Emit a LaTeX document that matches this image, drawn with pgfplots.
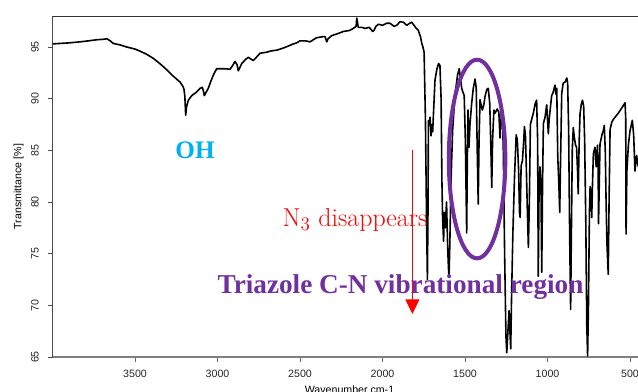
\documentclass[border=0pt]{standalone}
\usepackage{fontspec}
\setsansfont{Liberation Sans}
\newfontfamily\annotfont{Liberation Serif}
\usepackage{pgfplots}
\usepackage{pgfplotstable}
\pgfplotsset{compat=1.18}
\usetikzlibrary{arrows.meta}
\definecolor{ohblue}{HTML}{00B0F0}
\definecolor{regionpurple}{HTML}{7030A0}

% IR spectrum: wavenumber (cm-1) vs transmittance (%)
\pgfplotstableread{
wn T
4000 95.3
3950 95.35
3900 95.4
3833 95.5
3780 95.6
3732 95.7
3690 95.75
3671 95.8
3650 95.6
3633 95.35
3590 95.2
3550 95.0
3500 94.8
3470 94.6
3430 94.3
3389 93.9
3350 93.4
3308 92.8
3270 92.2
3227 91.6
3210 91.2
3203 90.9
3198 90.2
3193 88.4
3188 89.2
3177 89.85
3156 90.3
3130 90.6
3106 91.0
3092 91.1
3085 90.7
3080 90.3
3070 90.6
3056 91.0
3040 91.7
3025 92.3
3005 92.9
2960 92.9
2924 92.85
2905 93.3
2894 93.6
2882 93.3
2874 92.7
2865 93.0
2853 93.4
2830 93.8
2813 94.0
2795 93.8
2783 93.7
2765 94.0
2742 94.4
2700 94.5
2682 94.6
2640 94.7
2601 94.9
2570 95.1
2541 95.3
2520 95.4
2500 95.6
2470 95.6
2439 95.5
2420 95.7
2399 95.9
2360 96.0
2348 96.0
2338 95.5
2330 95.8
2308 96.1
2270 96.3
2238 96.5
2200 96.6
2177 96.8
2160 97.0
2156 97.8
2150 97.2
2147 96.9
2125 96.9
2106 96.8
2080 96.9
2060 96.5
2052 96.6
2040 97.0
2025 97.2
2000 97.1
1975 97.3
1955 97.3
1930 97.0
1914 97.1
1894 97.45
1874 97.4
1860 97.2
1853 97.1
1835 97.3
1823 97.4
1800 96.9
1783 96.6
1770 96.0
1762 95.35
1755 95.0
1748 94.5
1740 88
1733 78
1728 72.5
1724 80
1722 87.9
1716 87.5
1712 88.2
1706 86.4
1700 87.5
1696 86.8
1690 89.0
1682 91.8
1670 92.9
1660 93.4
1652 93.2
1645 90
1640 82
1636 78.5
1630 76.2
1625 79
1620 77.5
1612 80
1605 75.5
1600 73.5
1597 72.7
1592 76
1585 82
1575 87
1560 90.5
1545 92.3
1535 92.9
1528 92.0
1520 91.0
1512 90.6
1505 90.3
1498 86
1490 77.0
1486 84
1482 88.9
1476 85.3
1470 87.5
1460 89.5
1450 91.0
1439 91.9
1432 91.0
1426 85
1420 79.8
1415 86
1409 89.9
1400 89.2
1395 88.9
1385 89.5
1379 90.2
1368 90.9
1359 91.0
1350 89.5
1343 85
1338 81.4
1333 86
1325 88.9
1318 88.6
1305 89.0
1295 88.7
1288 86.2
1280 88.5
1274 89.0
1268 85.0
1260 75
1252 67
1247 65.4
1240 67.5
1233 69.5
1228 67.5
1223 65.8
1218 70.8
1210 77
1200 82.5
1190 86.5
1183 86.0
1175 83
1170 79
1166 78.5
1160 83.5
1152 84
1144 86
1140 87.3
1134 86.5
1128 83
1122 79
1116 75.6
1110 80
1104 87.5
1096 88.0
1086 88.6
1075 89.5
1066 89.85
1060 86
1056 72.8
1052 80
1046 83.4
1040 82
1035 73.2
1030 82
1025 87.6
1015 88.2
1005 89.4
995 86.6
990 88
975 90.3
966 90.6
955 91.3
948 90.4
944 91.0
938 84.4
932 82
926 79.0
921 84
914 90.5
905 91.5
894 91.6
883 92.0
878 91.5
872 87
866 77
860 69.6
856 76
850 85
844 87.2
838 86.3
830 85.5
824 85.3
818 83
814 80.8
808 86
803 88.5
795 89.5
788 89.85
781 89.3
775 86
768 78
762 68
757 65.1
752 70
746 79
742 81.5
737 81
732 78.5
727 82
722 84.7
712 85.3
705 83.4
697 85.5
693 83
691 77.9
686 82
682 85.6
670 86.5
662 86.9
656 87.4
650 85
645 80
640 76
632 73.0
627 80
621 87.0
611 87.7
601 88.0
591 88.2
571 88.6
550 89.1
530 89.6
526 88
524 76.9
519 83
510 85.5
500 86.9
486 87.9
478 86.5
470 83.0
460 84.5
452 83.6
440 83.0
}\spectrum

\begin{document}
\begin{tikzpicture}
\useasboundingbox (0,0) rectangle (478.5bp,294bp);
\clip (0,0) rectangle (478.5bp,294bp);
\begin{axis}[
  at={(39.4bp,26.25bp)}, anchor=south west,
  scale only axis, width=445.5bp, height=255.75bp,
  x dir=reverse, xmin=400, xmax=4000, ymin=65, ymax=98,
  xtick={500,1000,...,3500}, ytick={65,70,...,95},
  axis x line*=bottom, axis y line*=left,
  x axis line style={color=black!50, line width=0.8bp},
  y axis line style={color=black!70, line width=0.8bp},
  tick align=outside, major tick length=3.75bp,
  xtick style={color=black!60, line width=0.6bp},
  ytick style={color=black!70, line width=0.6bp},
  ticklabel style={font=\sffamily\fontsize{8}{9}\selectfont, text=black!85},
  /pgf/number format/assume math mode=true,
  /pgf/number format/1000 sep={},
  yticklabel style={rotate=90, anchor=south},
  yticklabel shift=3bp, xticklabel shift=2.5bp,
  xlabel={Wavenumber cm-1}, ylabel={Transmittance [\%]},
  label style={font=\sffamily\fontsize{8}{9}\selectfont},
  xlabel style={yshift=1bp},
  ylabel style={at={(axis description cs:-0.057,0.5)}, anchor=center},
]
\addplot[black, line width=1.2bp, line join=round] table[x=wn, y=T] {\spectrum};

\draw[black!80, line width=0.6bp] (rel axis cs:0,1) -- (rel axis cs:1,1);

\node[anchor=base, text=ohblue, font=\annotfont\bfseries\fontsize{19}{22}\selectfont]
  at (axis cs:3136,84.2) {OH};
\node[anchor=base, text=red, font=\fontsize{19.5}{22}\selectfont, inner sep=0pt]
  at (axis cs:2167,77.6) {N$_3$ disappears};
\draw[red, line width=0.8bp, -{Triangle[width=10.5bp, length=11bp]}]
  (axis cs:1819,85.07) -- (axis cs:1819,69.16);
\draw[regionpurple, line width=3bp]
  (axis cs:1427,84.16) ellipse [x radius=21.2bp, y radius=74.5bp];
\node[anchor=base, text=regionpurple, font=\annotfont\bfseries\fontsize{20.5}{24}\selectfont, inner sep=0pt]
  at (axis cs:1891,71.1) {Triazole C-N vibrational region};
\end{axis}
\end{tikzpicture}
\end{document}
